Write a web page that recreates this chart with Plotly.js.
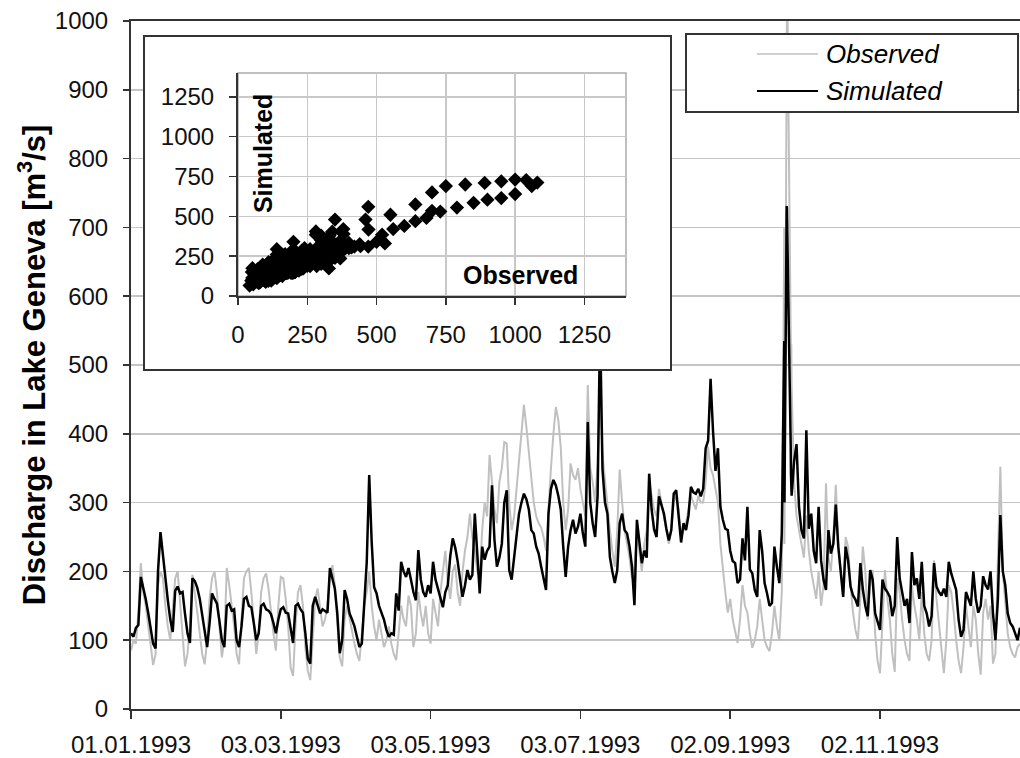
<!DOCTYPE html>
<html><head><meta charset="utf-8">
<script src="https://cdn.plot.ly/plotly-3.0.1.min.js"></script>
<style>
html,body{margin:0;padding:0;background:#fff;}
#main{position:absolute;left:0;top:0;width:1020px;height:758px;}
#insetBox{position:absolute;left:143px;top:35px;width:525px;height:332px;border:2px solid #333;background:#fff;}
#inset{width:525px;height:332px;}
</style></head><body>
<div id="main"></div>
<div id="insetBox"><div id="inset"></div></div>
<script>
// Daily values, day 0 = 01.01.1993
const simulated = [
110,105,118,122,192,178,160,140,118,95,
88,200,257,222,190,158,130,112,172,178,
168,170,138,110,96,190,186,176,160,138,
110,90,125,168,160,153,128,100,90,150,
153,143,145,100,90,120,160,163,150,148,
125,100,110,150,153,145,143,138,125,110,
130,145,148,140,139,120,96,150,153,145,
140,110,73,66,150,163,150,139,145,143,
140,205,188,175,139,81,100,173,160,139,
130,120,105,90,95,150,214,340,243,177,
168,150,139,130,115,105,110,108,168,143,
214,200,192,205,188,170,158,231,188,170,
163,180,168,214,188,175,160,148,170,180,
222,248,235,215,188,163,180,202,188,195,
284,227,168,236,217,230,236,325,246,207,
220,240,300,318,202,188,220,260,284,300,
313,305,290,260,255,236,226,207,190,173,
284,320,333,325,310,290,236,192,236,260,
275,255,265,284,255,236,417,300,270,250,
310,560,348,300,284,221,200,183,202,270,
284,260,255,236,207,151,275,240,212,230,
220,342,290,261,250,309,295,284,262,245,
260,313,318,281,242,270,260,281,323,315,
313,320,309,320,379,390,480,404,346,379,
294,275,262,260,230,215,212,183,188,248,
216,294,203,197,173,163,260,230,183,168,
150,154,236,207,183,255,535,731,574,411,
360,385,294,260,248,405,262,284,230,212,
294,216,188,173,260,226,240,297,236,200,
163,236,216,178,165,159,149,212,174,150,
135,202,188,139,125,115,188,175,170,163,
135,150,250,190,170,150,160,125,228,180,
190,160,214,150,139,120,135,212,178,170,
165,175,163,214,197,185,173,130,105,115,
170,160,150,200,160,140,150,193,180,174,
200,139,100,160,282,200,180,139,125,120,
110,100,118
];
const observed = [
85,100,95,140,212,170,150,120,90,64,
80,180,200,190,150,120,100,140,190,200,
150,110,62,80,120,195,170,140,110,80,
65,100,160,190,200,170,120,75,100,205,
180,150,120,80,65,130,190,200,205,170,
120,80,110,170,190,197,175,140,110,85,
150,192,190,160,120,60,48,120,170,180,
150,90,55,42,110,160,175,150,120,130,
150,190,209,180,120,75,62,130,150,130,
110,95,80,70,110,150,170,200,150,120,
100,130,110,90,100,120,95,80,71,110,
150,130,120,165,150,90,110,170,140,120,
150,110,95,160,140,120,170,200,230,185,
160,200,210,170,150,200,230,250,284,250,
230,200,190,260,300,280,369,330,290,270,
330,350,388,386,300,260,280,320,360,400,
442,410,370,330,300,280,270,264,250,230,
300,350,400,439,420,380,300,260,290,357,
340,333,350,320,300,280,471,350,330,300,
357,470,370,330,300,260,230,207,260,348,
300,260,240,220,190,207,250,230,200,240,
260,330,310,290,280,320,300,280,260,240,
260,300,310,290,250,260,270,290,310,300,
290,310,300,300,330,381,350,340,320,300,
240,200,170,140,160,130,110,96,130,180,
150,140,110,89,100,120,160,130,100,90,
84,110,150,120,100,170,700,1000,700,430,
330,281,260,240,220,281,230,200,180,160,
200,150,180,328,220,200,250,326,240,200,
163,250,236,180,140,115,100,160,236,200,
130,180,202,110,70,52,120,202,160,130,
80,54,190,170,130,100,80,70,180,150,
130,100,170,110,80,70,100,216,160,120,
90,52,100,180,170,140,100,70,52,90,
150,120,90,150,130,80,50,140,160,130,
150,66,80,220,352,200,150,110,90,80,
75,90,95
];
// Flood event of late September at sub-daily resolution (day number, value)
const eventDay = [266.083,266.167,266.25,266.333,266.417,266.5,266.583,266.667,266.75,266.833,266.917,267.0,267.083,267.167,267.25,267.375,267.5,267.625,267.75,267.875,268.0,268.125,268.25,268.375,268.5,268.625,268.75,268.875,269.0];
const eventObs = [240,300,380,460,550,640,700,750,820,890,950,1000,1040,1080,1060,1000,950,900,850,790,730,680,640,600,560,520,500,530,470];
const eventSim = [300,350,420,480,510,575,650,690,700,710,720,731,728,712,690,640,615,605,585,555,530,490,470,440,420,385,340,330,310];

const tickDates = ['1993-01-01','1993-03-03','1993-05-03','1993-07-03','1993-09-02','1993-11-02'];
const tickLabels = ['01.01.1993','03.03.1993','03.05.1993','03.07.1993','02.09.1993','02.11.1993'];
const seriesNames = ['Observed','Simulated'];

// merge daily and event records
const recs = [];
const evStart = eventDay[0], evEnd = eventDay[eventDay.length-1];
for (let d = 0; d < simulated.length; d++) {
  if (d >= evStart && d <= evEnd) continue;
  recs.push({t:d, o:observed[d], s:simulated[d]});
}
for (let i = 0; i < eventDay.length; i++) recs.push({t:eventDay[i], o:eventObs[i], s:eventSim[i]});
recs.sort((a,b)=>a.t-b.t);
const base = Date.UTC(1993,0,1);
function toDate(d){ return new Date(base + Math.round(d*86400000)).toISOString().replace('T',' ').slice(0,19); }
const xs = recs.map(r=>toDate(r.t));
const obsVals = recs.map(r=>r.o);
const simVals = recs.map(r=>r.s);

const FONT = '"Liberation Sans", Arial, Helvetica, sans-serif';
const W = 1020, H = 758, ML = 131, MR = 0, MT = 21, MB = 49;
const pw = W-ML-MR, ph = H-MT-MB;
const px = p => (p-ML)/pw, py = p => (H-MB-p)/ph;

const traces = [
  {type:'scatter', mode:'lines', name:seriesNames[0], x:xs, y:obsVals, line:{color:'#c0c0c0', width:2}},
  {type:'scatter', mode:'lines', name:seriesNames[1], x:xs, y:simVals, line:{color:'#000000', width:2.5}}
];
const layout = {
  width:W, height:H, margin:{l:ML, r:MR, t:MT, b:MB},
  paper_bgcolor:'#fff', plot_bgcolor:'#fff', showlegend:false,
  font:{family:FONT, size:24, color:'#111'},
  xaxis:{type:'date', range:['1993-01-01','1993-12-29'], tickvals:tickDates, ticktext:tickLabels,
    ticks:'outside', ticklen:8, tickwidth:1.5, tickcolor:'#333', showline:true, linecolor:'#333', linewidth:2,
    mirror:true, showgrid:false, zeroline:false, ticklabelstandoff:5, tickfont:{size:24, family:FONT}},
  yaxis:{range:[0,1000], tick0:0, dtick:100, ticks:'outside', ticklen:6, tickwidth:1.5, tickcolor:'#333',
    showline:true, linecolor:'#333', linewidth:2, zeroline:false, showgrid:true, gridcolor:'#c4c4c4', gridwidth:1.5,
    ticklabelstandoff:10, tickfont:{size:24, family:FONT},
    title:{text:'Discharge in Lake Geneva [m<sup>3</sup>/s]', font:{size:31, family:FONT, weight:'bold', color:'#000'}, standoff:0}},
  shapes:[
    {type:'rect', xref:'paper', yref:'paper', x0:px(686), x1:px(1018), y0:py(112), y1:py(34), fillcolor:'#fff', line:{color:'#333', width:2}, layer:'above'},
    {type:'line', xref:'paper', yref:'paper', x0:px(757), x1:px(818), y0:py(54), y1:py(54), line:{color:'#c0c0c0', width:1.5}, layer:'above'},
    {type:'line', xref:'paper', yref:'paper', x0:px(757), x1:px(818), y0:py(91), y1:py(91), line:{color:'#000', width:2}, layer:'above'}
  ],
  annotations:[
    {xref:'paper', yref:'paper', x:px(824), y:py(54), xanchor:'left', yanchor:'middle', showarrow:false, text:'<i>'+seriesNames[0]+'</i>', font:{size:26, family:FONT, color:'#000'}},
    {xref:'paper', yref:'paper', x:px(824), y:py(91), xanchor:'left', yanchor:'middle', showarrow:false, text:'<i>'+seriesNames[1]+'</i>', font:{size:26, family:FONT, color:'#000'}}
  ]
};
Plotly.newPlot('main', traces, layout, {staticPlot:true, displayModeBar:false});

// Inset scatter: simulated vs observed
const insetAxis = {range:[0,1400], tick0:0, dtick:250, ticks:'outside', ticklen:7, tickwidth:1.5, tickcolor:'#333',
  showline:true, linecolor:'#333', linewidth:2, zeroline:false, showgrid:true, gridcolor:'#c8c8c8', gridwidth:1.5,
  tickfont:{size:24, family:FONT}, ticklabelstandoff:10};
const insetLayout = {
  width:525, height:332, margin:{l:93, r:44, t:36, b:73},
  paper_bgcolor:'#fff', plot_bgcolor:'#fff', showlegend:false,
  font:{family:FONT, size:24, color:'#111'},
  xaxis:Object.assign({}, insetAxis, {ticklabelstandoff:9}),
  yaxis:Object.assign({}, insetAxis),
  shapes:[{type:'rect', xref:'paper', yref:'paper', x0:0, x1:1, y0:0, y1:1, line:{color:'#aaa', width:1.5}, layer:'below'}],
  annotations:[
    {xref:'paper', yref:'paper', x:0.064, y:0.64, xanchor:'center', yanchor:'middle', textangle:-90, showarrow:false, text:'<b>Simulated</b>', font:{size:25, family:FONT, color:'#000'}},
    {xref:'paper', yref:'paper', x:0.727, y:0.094, xanchor:'center', yanchor:'middle', showarrow:false, text:'<b>Observed</b>', font:{size:25, family:FONT, color:'#000'}}
  ]
};
Plotly.newPlot('inset', [{type:'scatter', mode:'markers', x:obsVals, y:simVals,
  marker:{symbol:'diamond', size:11, color:'#000'}}], insetLayout, {staticPlot:true, displayModeBar:false});
</script>
</body></html>
